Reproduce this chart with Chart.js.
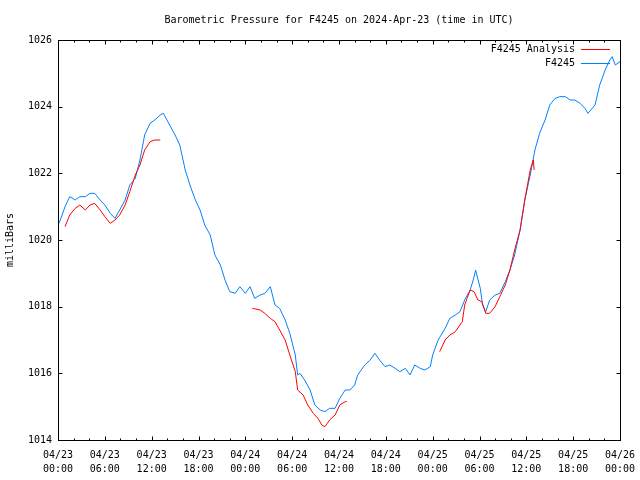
<!DOCTYPE html>
<html>
<head>
<meta charset="utf-8">
<script src="https://cdn.jsdelivr.net/npm/chart.js@4.4.1/dist/chart.umd.min.js"></script>
<style>
  html, body { margin: 0; padding: 0; background: #fff; }
  #wrap { width: 640px; height: 480px; }
</style>
</head>
<body>
<div id="wrap"><canvas id="myChart" width="640" height="480"></canvas></div>
<script>
/* datos: horas desde 04/23 00:00 UTC y presion en mb */
let stationHours = [0,0.3,0.9,1.5,2.2,2.8,3.5,4.1,4.7,5.4,6.0,6.7,7.3,7.9,8.6,9.2,9.9,10.5,11.1,11.8,
  12.4,13.1,13.5,14.3,15.0,15.6,16.3,16.9,17.6,18.2,18.8,19.5,20.1,20.8,21.4,22.0,22.7,23.3,24.0,24.6,
  25.2,25.9,26.5,27.2,27.8,28.4,29.1,29.7,30.4,30.7,31.0,31.6,32.3,32.9,33.6,34.2,34.8,35.5,36.1,36.8,
  37.4,38.0,38.4,39.3,40.0,40.6,41.2,41.9,42.5,43.2,43.8,44.5,45.1,45.7,46.4,47.0,47.7,48.0,48.7,49.6,
  50.2,50.9,51.5,52.1,52.8,53.2,53.5,54.1,54.4,54.8,55.3,56.0,56.6,57.3,57.9,58.5,59.2,59.8,60.5,61.1,
  61.7,62.4,63.0,63.7,64.3,65.0,65.6,66.2,66.9,67.5,67.9,68.8,69.4,70.1,70.7,71.0,71.4,72.0];
let stationPressure = [1020.45,1020.6,1021.0,1021.3,1021.2,1021.3,1021.3,1021.4,1021.4,1021.2,
  1021.05,1020.8,1020.65,1020.9,1021.2,1021.65,1021.85,1022.4,1023.15,1023.5,
  1023.6,1023.75,1023.8,1023.45,1023.15,1022.85,1022.1,1021.65,1021.2,1020.9,
  1020.45,1020.15,1019.55,1019.25,1018.8,1018.45,1018.4,1018.6,1018.4,1018.6,
  1018.25,1018.35,1018.4,1018.6,1018.05,1017.95,1017.6,1017.2,1016.55,1015.95,
  1016.0,1015.8,1015.5,1015.05,1014.9,1014.85,1014.95,1014.95,1015.25,1015.5,
  1015.5,1015.65,1015.95,1016.25,1016.4,1016.6,1016.4,1016.2,1016.25,1016.15,
  1016.05,1016.15,1015.95,1016.25,1016.15,1016.1,1016.2,1016.55,1017.0,1017.35,
  1017.65,1017.75,1017.85,1018.2,1018.5,1018.8,1019.1,1018.55,1018.05,1017.85,
  1018.2,1018.35,1018.4,1018.75,1019.1,1019.55,1020.3,1021.2,1021.95,1022.7,
  1023.2,1023.6,1024.05,1024.25,1024.3,1024.3,1024.2,1024.2,1024.1,1023.95,
  1023.8,1024.05,1024.65,1025.1,1025.4,1025.5,1025.25,1025.35];

// null = hueco en el analisis
let analysisHours = [0.9,1.5,2.2,2.8,3.5,4.1,4.7,5.4,6.0,6.7,7.3,7.9,8.6,9.2,9.9,10.5,11.1,11.8,12.4,13.1,
  19.0,
  24.9,25.9,26.5,27.2,27.8,28.4,29.1,29.7,30.4,30.7,31.4,32.0,32.7,33.3,33.8,34.2,34.8,35.5,36.1,36.8,37.0,
  42.0,
  48.9,49.6,50.2,50.9,51.8,52.1,52.8,53.3,53.8,54.3,54.8,55.3,56.0,56.6,57.3,57.9,58.5,59.2,59.8,60.5,60.9,61.0];
let analysisPressure = [1020.4,1020.75,1020.95,1021.05,1020.9,1021.05,1021.1,1020.9,1020.7,1020.5,
  1020.6,1020.75,1021.05,1021.45,1021.95,1022.25,1022.7,1022.95,1023.0,1023.0,
  null,
  1017.95,1017.9,1017.8,1017.65,1017.55,1017.3,1017.0,1016.55,1016.05,1015.5,
  1015.35,1015.05,1014.8,1014.65,1014.45,1014.4,1014.6,1014.75,1015.05,1015.15,1015.15,
  null,
  1016.65,1017.0,1017.15,1017.25,1017.55,1018.05,1018.5,1018.45,1018.2,1018.15,
  1017.8,1017.8,1018.0,1018.3,1018.65,1019.1,1019.7,1020.3,1021.2,1022.1,1022.4,1022.1];

let xTickLabels = [["04/23","00:00"],["04/23","06:00"],["04/23","12:00"],["04/23","18:00"],
  ["04/24","00:00"],["04/24","06:00"],["04/24","12:00"],["04/24","18:00"],
  ["04/25","00:00"],["04/25","06:00"],["04/25","12:00"],["04/25","18:00"],["04/26","00:00"]];
let seriesNames = ["F4245 Analysis","F4245"];
let seriesColors = ["#ff0000","#0080ff"];

const fuente = "'DejaVu Sans Mono', 'Liberation Mono', monospace";

function toPoints(hours, values){
	let out = [];
	for(let i = 0; i < hours.length; i++){
		out.push({x: hours[i], y: values[i]});
	}
	return out;
}

// marco, ticks hacia dentro y leyenda estilo gnuplot
const gnuplotFrame = {
	id: 'gnuplotFrame',
	afterDraw(chart){
		const ctx = chart.ctx;
		const a = chart.chartArea;
		const xs = chart.scales.x;
		const ys = chart.scales.y;
		const L = Math.round(a.left) + 0.5, R = Math.round(a.right) + 0.5;
		const T = Math.round(a.top) + 0.5, B = Math.round(a.bottom) + 0.5;
		ctx.save();
		ctx.strokeStyle = '#000';
		ctx.lineWidth = 1;
		ctx.beginPath();
		for(let h = 0; h <= 72; h += 2){
			const px = Math.round(xs.getPixelForValue(h)) + 0.5;
			const len = (h % 6 == 0) ? 4 : 2;
			ctx.moveTo(px, B); ctx.lineTo(px, B - len);
			ctx.moveTo(px, T); ctx.lineTo(px, T + len);
		}
		for(let v = 1014; v <= 1026; v += 2){
			const py = Math.round(ys.getPixelForValue(v)) + 0.5;
			ctx.moveTo(L, py); ctx.lineTo(L + 4, py);
			ctx.moveTo(R, py); ctx.lineTo(R - 4, py);
		}
		ctx.stroke();
		ctx.strokeRect(L, T, R - L, B - T);

		// leyenda
		ctx.font = '10px ' + fuente;
		ctx.textAlign = 'right';
		ctx.textBaseline = 'middle';
		ctx.fillStyle = '#000';
		for(let i = 0; i < seriesNames.length; i++){
			const y = 49 + i * 14;
			ctx.fillText(seriesNames[i], 575, y);
			ctx.strokeStyle = seriesColors[i];
			ctx.beginPath();
			ctx.moveTo(581, y + 0.5);
			ctx.lineTo(610, y + 0.5);
			ctx.stroke();
		}
		ctx.restore();
	}
};

const data = {
	datasets: [{
		label: seriesNames[0],
		data: toPoints(analysisHours, analysisPressure),
		borderColor: seriesColors[0],
		borderWidth: 1,
		pointRadius: 0,
		spanGaps: false,
		tension: 0
	},{
		label: seriesNames[1],
		data: toPoints(stationHours, stationPressure),
		borderColor: seriesColors[1],
		borderWidth: 1,
		pointRadius: 0,
		tension: 0
	}]
};

const config = {
	type: 'line',
	data: data,
	options: {
		responsive: false,
		animation: false,
		layout: { padding: { left: 0, right: 20, top: 0, bottom: 0 } },
		plugins: {
			legend: { display: false },
			tooltip: { enabled: false },
			title: {
				display: true,
				text: 'Barometric Pressure for F4245 on 2024-Apr-23 (time in UTC)',
				fullSize: false,
				color: '#000',
				font: { family: fuente, size: 10, weight: 'normal', lineHeight: 1.2 },
				padding: { top: 14, bottom: 14 }
			}
		},
		scales: {
			x: {
				type: 'linear',
				min: 0,
				max: 72,
				grid: { display: false, drawTicks: false },
				border: { display: false },
				afterFit: (scale) => {
					scale.height = 40;
					scale.paddingLeft = 0;
					scale.paddingRight = 0;
				},
				afterBuildTicks: (scale) => {
					scale.ticks = xTickLabels.map((lab, i) => ({ value: i * 6 }));
				},
				ticks: {
					autoSkip: false,
					maxRotation: 0,
					padding: 9,
					color: '#000',
					font: { family: fuente, size: 10, lineHeight: 1.35 },
					callback: (value) => xTickLabels[Math.round(value / 6)]
				}
			},
			y: {
				min: 1014,
				max: 1026,
				grid: { display: false, drawTicks: false },
				border: { display: false },
				afterFit: (scale) => { scale.width = 58; },
				ticks: {
					stepSize: 2,
					padding: 6,
					color: '#000',
					font: { family: fuente, size: 10 },
					callback: (value) => String(value)
				},
				title: {
					display: true,
					text: 'milliBars',
					color: '#000',
					font: { family: fuente, size: 10 },
					padding: { top: 4, bottom: 0 }
				}
			}
		}
	},
	plugins: [gnuplotFrame]
};

new Chart(document.getElementById('myChart'), config);
</script>
</body>
</html>
